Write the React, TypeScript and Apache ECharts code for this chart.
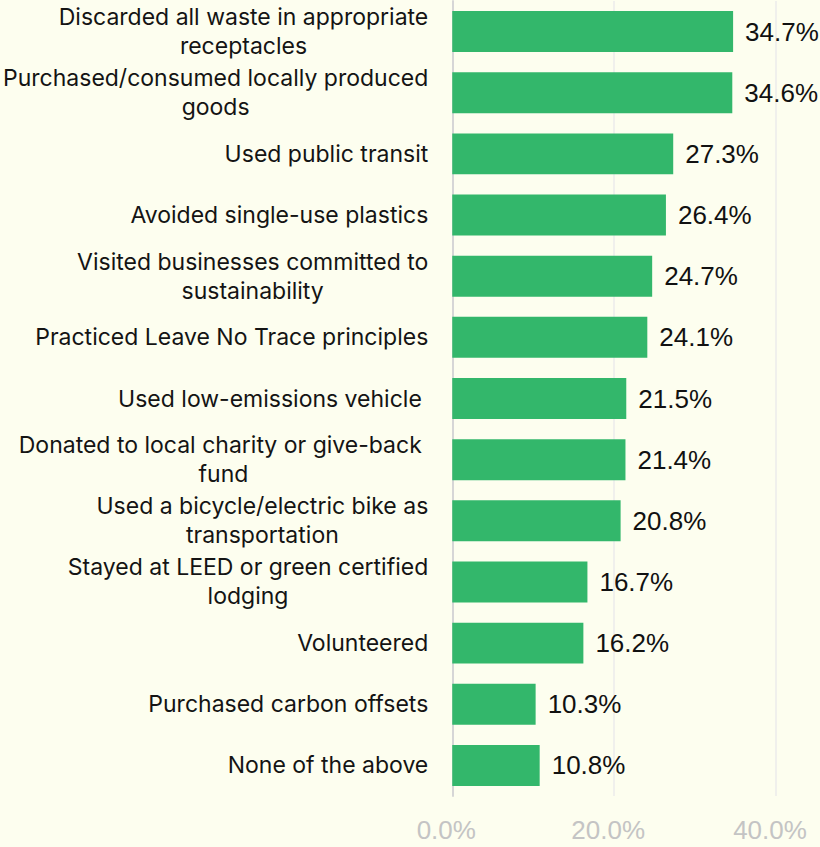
import React, { useEffect, useRef } from "react";
import * as echarts from "echarts";

const categories = [
  "Discarded all waste in appropriate\nreceptacles",
  "Purchased/consumed locally produced\ngoods",
  "Used public transit",
  "Avoided single-use plastics",
  "Visited businesses committed to\nsustainability",
  "Practiced Leave No Trace principles",
  "Used low-emissions vehicle ",
  "Donated to local charity or give-back \nfund",
  "Used a bicycle/electric bike as\ntransportation",
  "Stayed at LEED or green certified\nlodging",
  "Volunteered",
  "Purchased carbon offsets",
  "None of the above",
];

const values = [34.7, 34.6, 27.3, 26.4, 24.7, 24.1, 21.5, 21.4, 20.8, 16.7, 16.2, 10.3, 10.8];

const xTicks = { min: 0, max: 40, interval: 20 };

export default function App() {
  const ref = useRef<HTMLDivElement>(null);

  useEffect(() => {
    if (!ref.current) return;
    const chart = echarts.init(ref.current, null, { renderer: "svg" });
    chart.setOption({
      animation: false,
      backgroundColor: "#fdfeef",
      grid: { left: 450, right: 44, top: 1, bottom: 51, containLabel: false },
      xAxis: {
        type: "value",
        min: xTicks.min,
        max: xTicks.max,
        interval: xTicks.interval,
        axisLine: { show: false },
        axisTick: { show: false },
        splitLine: { show: true, lineStyle: { color: "#ebebeb", width: 1.5 } },
        axisLabel: {
          formatter: (v: number) => v.toFixed(1) + "%",
          color: "#c4c4c4",
          fontSize: 26,
          fontFamily: "Liberation Sans, Arial, sans-serif",
          margin: 21,
          padding: [0, 12, 0, 0],
        },
      },
      yAxis: {
        type: "category",
        data: categories,
        inverse: true,
        axisLine: { show: true, lineStyle: { color: "#d6d6d6", width: 2 } },
        axisTick: { show: false },
        axisLabel: {
          margin: 24,
          align: "right",
          formatter: (v: string) =>
            v
              .split("\n")
              .map((l) => `{c|${l}}`)
              .join("\n"),
          rich: {
            c: {
              fontFamily: "Inter, sans-serif",
              fontSize: 23,
              lineHeight: 29,
              align: "center",
              color: "#141414",
            },
          },
        },
      },
      series: [
        {
          type: "bar",
          data: values,
          barCategoryGap: "33%",
          itemStyle: { color: "#33b76b" },
          label: {
            show: true,
            position: "right",
            distance: 12,
            formatter: (p: any) => p.value.toFixed(1) + "%",
            color: "#111",
            fontSize: 26,
            fontFamily: "Liberation Sans, Arial, sans-serif",
          },
        },
      ],
    });
    return () => chart.dispose();
  }, []);

  return (
    <div
      ref={ref}
      style={{ position: "absolute", left: 0, top: 0, width: 820, height: 847 }}
    />
  );
}
